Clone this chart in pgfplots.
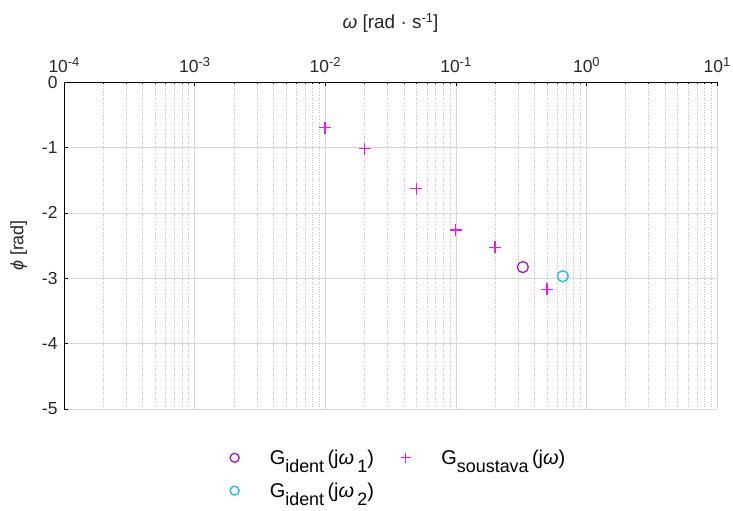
\documentclass[border=0pt]{standalone}
\usepackage{fontspec}
\setmainfont{Liberation Sans}
\usepackage{pgfplots}
\pgfplotsset{compat=1.18}

\definecolor{identA}{RGB}{165,30,205}
\definecolor{identB}{RGB}{40,190,225}
\definecolor{soustava}{RGB}{240,20,240}
\definecolor{gridmaj}{RGB}{215,215,215}
\definecolor{gridmin}{RGB}{195,195,195}
\definecolor{labeltext}{RGB}{38,38,38}

% MATLAB-style lowered subscript and raised superscript
\newcommand{\lowsub}[1]{\raisebox{-8.5bp}{\fontsize{18}{19}\selectfont #1}}
\newcommand{\highsup}[1]{\raisebox{6bp}{\fontsize{13}{14}\selectfont #1}}

\begin{document}
\begin{tikzpicture}
\useasboundingbox (-64bp,-102bp) rectangle (669bp,409bp);
\begin{axis}[
  at={(0,0)}, anchor=south west,
  scale only axis,
  width=653bp, height=327bp,
  xmode=log,
  xmin=1e-4, xmax=1e1,
  ymin=-5, ymax=0,
  xtick={1e-4,1e-3,1e-2,1e-1,1e0,1e1},
  xticklabels={10\highsup{-4},10\highsup{-3},10\highsup{-2},10\highsup{-1},10\highsup{0},10\highsup{1}},
  ytick={-5,-4,-3,-2,-1,0},
  yticklabels={-5,-4,-3,-2,-1,0},
  axis x line*=top,
  axis y line*=left,
  tick align=inside,
  major tick length=4bp, minor tick length=2.5bp,
  tick style={black, line width=0.5pt},
  grid=both,
  major grid style={gridmaj, line width=0.5pt},
  minor grid style={gridmin, dotted, line width=0.5pt},
  axis line style={black, line width=0.7pt, -},
  tick label style={font=\fontsize{17.5}{19}\selectfont, text=labeltext},
  xticklabel style={yshift=6bp},
  yticklabel style={xshift=-3bp},
  xlabel={\textit{ω} [rad · s\highsup{-1}]},
  xlabel style={font=\fontsize{19}{21}\selectfont, text=labeltext, yshift=18bp},
  ylabel={\textit{ϕ} [rad]},
  ylabel style={font=\fontsize{18}{20}\selectfont, text=labeltext, yshift=8bp},
  legend columns=2,
  legend style={
    at={(0.512,-0.112)}, anchor=north,
    draw=none, fill=none,
    font=\fontsize{20}{22}\selectfont,
    row sep=13bp,
    /tikz/every odd column/.append style={column sep=28bp},
    /tikz/every even column/.append style={column sep=24bp},
  },
  legend cell align=left,
]
\addplot[only marks, mark=o, mark size=5.5bp, identA,
  mark options={draw=identA, line width=1.4pt},
  legend image code/.code={\draw[identA, line width=1.4pt] (0.3cm,0cm) circle (4.5bp);}]
  coordinates {(0.326,-2.83)};
\addlegendentry{G\lowsub{ident}\,(j\textit{ω}\,\lowsub{1})}

\addplot[only marks, mark=+, mark size=6bp, soustava,
  mark options={draw=soustava, line width=1.4pt},
  legend image code/.code={\draw[soustava, line width=1.4pt] (0.3cm-5bp,0cm) -- (0.3cm+5bp,0cm) (0.3cm,-5bp) -- (0.3cm,5bp);}]
  coordinates {
    (0.01,-0.70)
    (0.02,-1.02)
    (0.05,-1.63)
    (0.1,-2.26)
    (0.2,-2.53)
    (0.5,-3.17)
  };
\addlegendentry{G\lowsub{soustava}\,(j\textit{ω})}

\addplot[only marks, mark=o, mark size=5.5bp, identB,
  mark options={draw=identB, line width=1.4pt},
  legend image code/.code={\draw[identB, line width=1.4pt] (0.3cm,0cm) circle (4.5bp);}]
  coordinates {(0.66,-2.97)};
\addlegendentry{G\lowsub{ident}\,(j\textit{ω}\,\lowsub{2})}
\end{axis}
\end{tikzpicture}
\end{document}
